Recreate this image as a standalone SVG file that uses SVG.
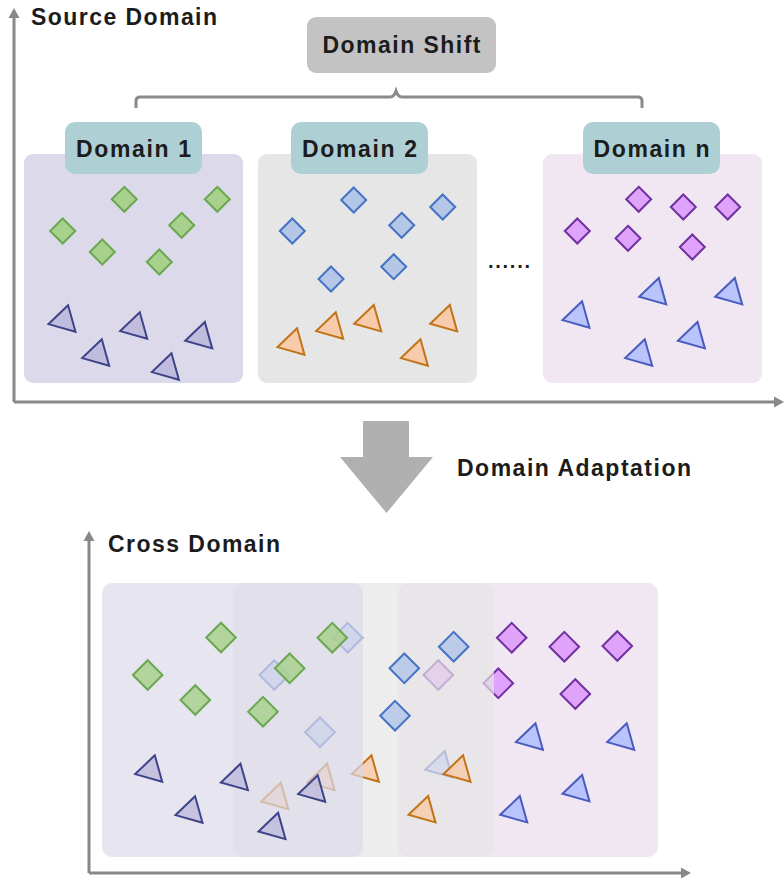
<svg xmlns="http://www.w3.org/2000/svg" width="784" height="881" viewBox="0 0 784 881">
<style>
text{font-family:"Liberation Sans",Arial,sans-serif;font-weight:bold;fill:#1c1c1c;}
.ax{stroke:#888;stroke-width:3;fill:none;}
.axh{fill:#888;}
.g{fill:#a9d18e;stroke:#6aa84f;stroke-width:2;}
.nv{fill:#c0bcdd;stroke:#3d4389;stroke-width:2;stroke-linejoin:miter;}
.bd{fill:#b4c7e7;stroke:#4472c4;stroke-width:2;}
.or{fill:#f8cbad;stroke:#c27316;stroke-width:2;}
.pu{fill:#e0a3fb;stroke:#7030a0;stroke-width:2;}
.bt{fill:#b8c4fb;stroke:#4a5bbf;stroke-width:2;}
.lbl{fill:#aecfd3;}
.bot .g,.bot .bd,.bot .nv,.bot .or{fill-opacity:0.85;}
</style>
<defs>
<path id="dS" d="M0,-12.5 L12.5,0 L0,12.5 L-12.5,0Z"/>
<path id="dL" d="M0,-14.8 L14.8,0 L0,14.8 L-14.8,0Z"/>
<path id="tri" d="M-0.2,1 L-19.8,19.8 L7.2,27.4Z"/>
</defs>

<g id="axes-top">
<path class="ax" d="M14,402 H776 M14,402 V16"/>
<polygon class="axh" points="784,402 774,396.5 774,407.5"/>
<polygon class="axh" points="14,8 8.5,18 19.5,18"/>
</g>
<text x="31" y="25" font-size="23" textLength="186" lengthAdjust="spacing">Source Domain</text>

<g id="domain-shift">
<rect x="307" y="17" width="189" height="56" rx="9" fill="#c3c3c3"/>
<text x="401.5" y="53" font-size="23" text-anchor="middle" textLength="158" lengthAdjust="spacing">Domain Shift</text>
</g>

<g id="connectors">
<path d="M136,108 V101 Q136,97 140,97 H390 Q394,97 396,91 Q398,97 402,97 H638 Q642,97 642,101 V108" fill="none" stroke="#8a8a8a" stroke-width="3"/>
</g>

<g id="domain1">
<rect x="24" y="154" width="219" height="229" rx="9" fill="#dcdaea"/>
<rect class="lbl" x="65" y="122" width="137" height="52" rx="10"/>
<text x="133.5" y="156.5" font-size="23" text-anchor="middle" textLength="115" lengthAdjust="spacing">Domain 1</text>
<use href="#dS" class="g" x="124.3" y="199.3"/>
<use href="#dS" class="g" x="217.3" y="199.3"/>
<use href="#dS" class="g" x="62.7" y="231"/>
<use href="#dS" class="g" x="181.7" y="225.3"/>
<use href="#dS" class="g" x="102.3" y="252"/>
<use href="#dS" class="g" x="159.3" y="262"/>
<use href="#tri" class="nv" x="68.3" y="304.3"/>
<use href="#tri" class="nv" x="140" y="311.3"/>
<use href="#tri" class="nv" x="205" y="321"/>
<use href="#tri" class="nv" x="102" y="338.3"/>
<use href="#tri" class="nv" x="171.7" y="352.3"/>
</g>

<g id="domain2">
<rect x="258" y="154" width="219" height="229" rx="9" fill="#e6e6e6"/>
<rect class="lbl" x="291" y="122" width="137" height="52" rx="10"/>
<text x="359.5" y="156.5" font-size="23" text-anchor="middle" textLength="115" lengthAdjust="spacing">Domain 2</text>
<use href="#dS" class="bd" x="353.7" y="200"/>
<use href="#dS" class="bd" x="442.7" y="207"/>
<use href="#dS" class="bd" x="292.3" y="231"/>
<use href="#dS" class="bd" x="401.7" y="225.3"/>
<use href="#dS" class="bd" x="393.7" y="266.7"/>
<use href="#dS" class="bd" x="331" y="279"/>
<use href="#tri" class="or" x="374" y="304"/>
<use href="#tri" class="or" x="450" y="304"/>
<use href="#tri" class="or" x="336" y="311.3"/>
<use href="#tri" class="or" x="297.3" y="327.3"/>
<use href="#tri" class="or" x="420.7" y="338.3"/>
</g>

<text id="ellipsis" x="488" y="268" font-size="20" textLength="42" lengthAdjust="spacing">......</text>

<g id="domainn">
<rect x="543" y="154" width="219" height="229" rx="9" fill="#f1e7f3"/>
<rect class="lbl" x="583" y="122" width="137" height="52" rx="10"/>
<text x="651.5" y="156.5" font-size="23" text-anchor="middle" textLength="116" lengthAdjust="spacing">Domain n</text>
<use href="#dS" class="pu" x="638.7" y="199.3"/>
<use href="#dS" class="pu" x="683.3" y="207"/>
<use href="#dS" class="pu" x="727.7" y="207"/>
<use href="#dS" class="pu" x="577.3" y="231"/>
<use href="#dS" class="pu" x="628" y="238.3"/>
<use href="#dS" class="pu" x="692.3" y="247"/>
<use href="#tri" class="bt" x="659" y="277"/>
<use href="#tri" class="bt" x="735" y="277"/>
<use href="#tri" class="bt" x="582.3" y="300.3"/>
<use href="#tri" class="bt" x="697.7" y="321"/>
<use href="#tri" class="bt" x="645" y="338.3"/>
</g>

<g id="adaptation">
<polygon points="363,421 409,421 409,457 433,457 386.5,513 340,457 363,457" fill="#b0b0b0"/>
<text x="457" y="476" font-size="23" textLength="234" lengthAdjust="spacing">Domain Adaptation</text>
</g>

<g id="axes-bottom">
<path class="ax" d="M89,873 H682 M89,873 V540"/>
<polygon class="axh" points="691,873 681,867.5 681,878.5"/>
<polygon class="axh" points="89,531 83.5,541 94.5,541"/>
</g>
<text x="108" y="552" font-size="23" textLength="172" lengthAdjust="spacing">Cross Domain</text>

<g id="cross-domain" class="bot">
<g id="cross-n">
<rect x="398" y="583" width="260" height="274" rx="10" fill="#f1e7f3"/>
<use href="#dL" class="pu" x="511.7" y="637.7"/>
<use href="#dL" class="pu" x="564.3" y="646.7"/>
<use href="#dL" class="pu" x="617.3" y="646"/>
<use href="#dL" class="pu" x="498.3" y="683.3"/>
<use href="#dL" class="pu" x="575.3" y="694"/>
<use href="#dL" class="pu" x="438.3" y="675"/>
<use href="#tri" class="bt" x="535.7" y="722.3"/>
<use href="#tri" class="bt" x="627" y="722.3"/>
<use href="#tri" class="bt" x="582.3" y="774"/>
<use href="#tri" class="bt" x="520" y="795"/>
<use href="#tri" class="bt" x="445" y="750"/>
</g>
<g id="cross-2">
<rect x="233" y="583" width="261" height="274" rx="10" fill="#e6e6e6" fill-opacity="0.7"/>
<use href="#dL" class="bd" x="453.7" y="646.7"/>
<use href="#dL" class="bd" x="404.3" y="668.3"/>
<use href="#dL" class="bd" x="395" y="715.7"/>
<use href="#dL" class="bd" x="274.3" y="675"/>
<use href="#dL" class="bd" x="347.7" y="637.7"/>
<use href="#dL" class="bd" x="320" y="732.3"/>
<use href="#tri" class="or" x="463.3" y="754.3"/>
<use href="#tri" class="or" x="428.3" y="795"/>
<use href="#tri" class="or" x="371.7" y="754.3"/>
<use href="#tri" class="or" x="281" y="781.7"/>
<use href="#tri" class="or" x="327.3" y="762.7"/>
</g>
<g id="cross-1">
<rect x="102" y="583" width="261" height="274" rx="10" fill="#dcdaea" fill-opacity="0.7"/>
<use href="#dL" class="g" x="221" y="637.5"/>
<use href="#dL" class="g" x="147.7" y="675"/>
<use href="#dL" class="g" x="195.3" y="700"/>
<use href="#dL" class="g" x="332.3" y="637.7"/>
<use href="#dL" class="g" x="289.7" y="668.3"/>
<use href="#dL" class="g" x="263" y="711.7"/>
<use href="#tri" class="nv" x="155" y="754.3"/>
<use href="#tri" class="nv" x="240.7" y="762.7"/>
<use href="#tri" class="nv" x="195.3" y="795.3"/>
<use href="#tri" class="nv" x="318" y="774.3"/>
<use href="#tri" class="nv" x="278.3" y="811.7"/>
</g>
</g>
</svg>
